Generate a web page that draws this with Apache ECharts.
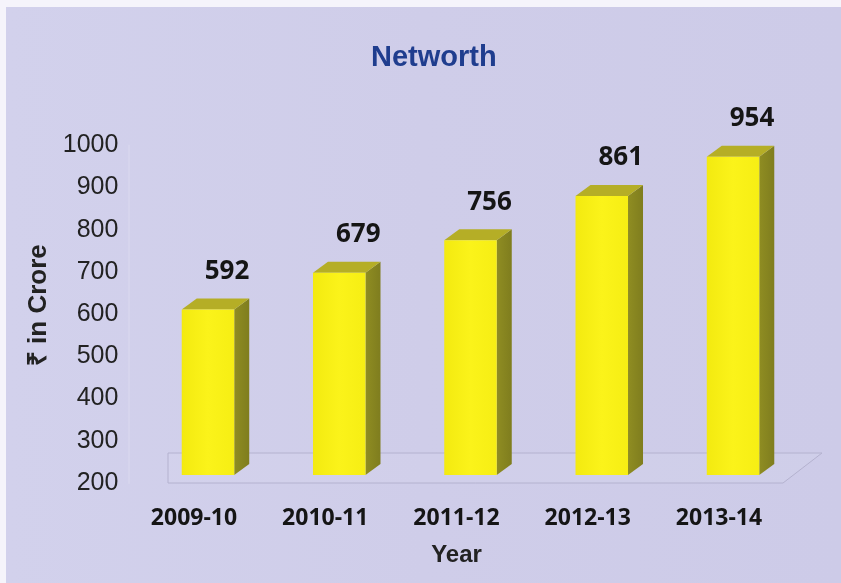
<!DOCTYPE html>
<html>
<head>
<meta charset="utf-8">
<script src="https://cdn.jsdelivr.net/npm/echarts@6/dist/echarts.min.js"></script>
<style>
html,body{margin:0;padding:0;background:#f5f4fb;}
#chart{width:841px;height:583px;}
</style>
</head>
<body>
<div id="chart"></div>
<script>
// ---- data ----
const categories = ['2009-10', '2010-11', '2011-12', '2012-13', '2013-14'];
const networth = [592, 679, 756, 861, 954];
const yTicks = [200, 300, 400, 500, 600, 700, 800, 900, 1000];
const titleText = 'Networth';
const yName = '₹ in Crore';
const xName = 'Year';

const chart = echarts.init(document.getElementById('chart'), null, {renderer: 'canvas'});

const DX = 15, DY = -11;

const option = {
  backgroundColor: '#f5f4fb',
  animation: false,
  title: {
    text: titleText,
    left: 366,
    top: 38,
    textStyle: {fontFamily: 'Liberation Sans', fontWeight: 'bold', fontSize: 29, color: '#1f3d8e'}
  },
  graphic: [
    {type: 'rect', z: -10, silent: true, shape: {x: 6, y: 7, width: 835, height: 576},
     style: {fill: new echarts.graphic.LinearGradient(0, 0, 1, 0, [
       {offset: 0, color: '#d2d1ec'}, {offset: 0.5, color: '#cfcde9'}, {offset: 1, color: '#cdcbe8'}])}},
    {type: 'polygon', z: -5, silent: true,
     shape: {points: [[168, 483], [783, 483], [822, 453], [168, 453]]},
     style: {fill: 'rgba(255,255,255,0.06)', stroke: '#b4b2cf', lineWidth: 1}}
  ],
  grid: [
    // plane of the bars
    {left: 142.35, right: 42.35, top: 137.4, bottom: 108, containLabel: false},
    // front plane carrying the axes and labels
    {left: 128.35, right: 56.35, top: 145.4, bottom: 100, containLabel: false}
  ],
  xAxis: [
    {type: 'category', gridIndex: 0, data: categories, show: false},
    {type: 'category', gridIndex: 1, data: categories,
     axisLine: {show: false}, axisTick: {show: false},
     axisLabel: {margin: 24, fontFamily: 'Open Sans', fontWeight: 'bold', fontSize: 23, color: '#151515'},
     name: xName, nameLocation: 'middle', nameGap: 60,
     nameTextStyle: {fontFamily: 'Liberation Sans', fontWeight: 'bold', fontSize: 24, color: '#222'}}
  ],
  yAxis: [
    {type: 'value', gridIndex: 0, min: yTicks[0], max: yTicks[yTicks.length - 1], interval: 100, show: false},
    {type: 'value', gridIndex: 1, min: yTicks[0], max: yTicks[yTicks.length - 1], interval: 100,
     axisLine: {show: true, lineStyle: {color: 'rgba(255,255,255,0.12)', width: 2}},
     axisTick: {show: false}, splitLine: {show: false},
     axisLabel: {margin: 10, fontFamily: 'Liberation Sans', fontSize: 25, color: '#222',
       formatter: function (v) { return String(v); }},
     name: yName, nameLocation: 'middle', nameGap: 68,
     nameTextStyle: {fontFamily: 'Liberation Sans', fontWeight: 'bold', fontSize: 26, color: '#222', padding: [0, 0, 0, 18]}}
  ],
  series: [{
    type: 'custom',
    xAxisIndex: 0, yAxisIndex: 0,
    data: networth.map((v, i) => [i, v]),
    renderItem: function (params, api) {
      const i = api.value(0), v = api.value(1);
      const top = api.coord([i, v]);
      const base = api.coord([i, yTicks[0]]);
      const w = api.size([1, 0])[0] * 0.4;
      const x0 = top[0] - w / 2, x1 = top[0] + w / 2;
      const yt = top[1], yb = base[1];
      return {
        type: 'group',
        children: [
          {type: 'polygon', shape: {points: [[x1, yt], [x1 + DX, yt + DY], [x1 + DX, yb + DY], [x1, yb]]},
           style: {fill: new echarts.graphic.LinearGradient(0, 0, 1, 0, [
             {offset: 0, color: '#8f8d22'}, {offset: 1, color: '#7f7d1e'}])}},
          {type: 'polygon', shape: {points: [[x0, yt], [x1, yt], [x1 + DX, yt + DY], [x0 + DX, yt + DY]]},
           style: {fill: '#b5ae26'}},
          {type: 'rect', shape: {x: x0, y: yt, width: w, height: yb - yt},
           style: {fill: new echarts.graphic.LinearGradient(0, 0, 1, 0, [
             {offset: 0, color: '#f3ea10'}, {offset: 0.5, color: '#fbf31a'}, {offset: 1, color: '#f6ee14'}])}},
          {type: 'text', style: {text: String(v), x: top[0] + 19, y: yt - 38,
            align: 'center', verticalAlign: 'middle',
            font: 'bold 26px "Open Sans"', fill: '#151515'}}
        ]
      };
    }
  }]
};
chart.setOption(option);
</script>
</body>
</html>
